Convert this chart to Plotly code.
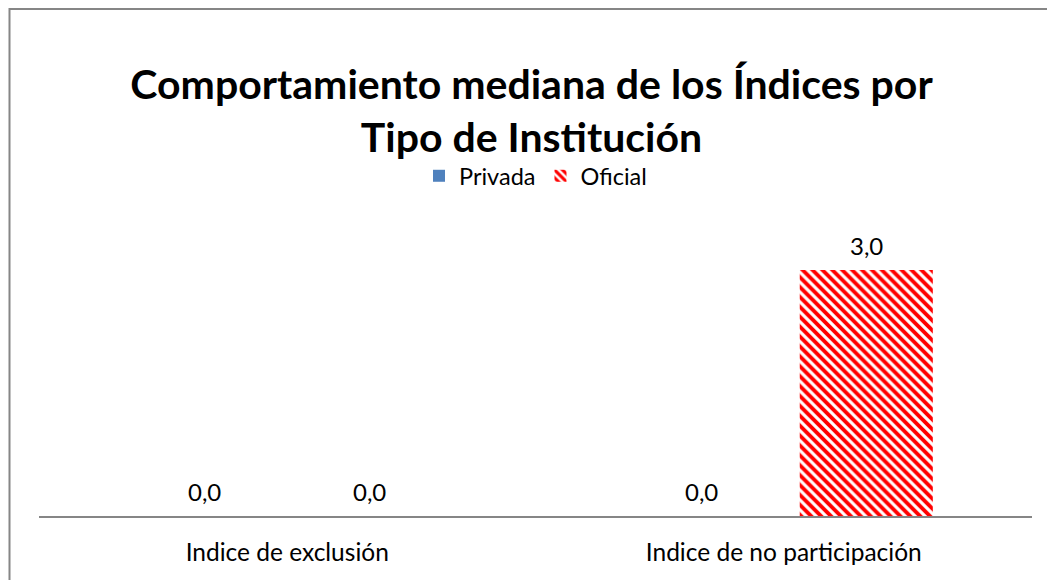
import plotly.graph_objects as go

categories = ["Indice de exclusión", "Indice de no participación"]
privada = [0.0, 0.0]
oficial = [0.0, 3.0]
title_text = "Comportamiento mediana de los Índices por<br>Tipo de Institución"

FONT = "Lato"
W, H = 1047, 572          # page body adds 8px margin
L, R, T, B = 31, 23, 221, 64
PW, PH = W - L - R, H - T - B

fig = go.Figure()
fig.add_trace(go.Bar(
    name="Privada", x=categories, y=privada,
    marker=dict(color="#4F81BD", line=dict(width=0)),
))
fig.add_trace(go.Bar(
    name="Oficial", x=categories, y=oficial,
    marker=dict(color="#FFFFFF", line=dict(width=0),
                pattern=dict(shape="\\", fgcolor="#FF0000", bgcolor="#FFFFFF",
                             size=7, solidity=0.55, fgopacity=1, fillmode="replace")),
))

annotations = []
for series, dx in ((privada, -82.5), (oficial, 82.5)):
    for cat, v in zip(categories, series):
        annotations.append(dict(
            x=cat, y=v, xref="x", yref="y", xshift=dx, yshift=8,
            text=f"{v:.1f}".replace(".", ","), showarrow=False,
            xanchor="center", yanchor="bottom",
            font=dict(family=FONT, size=24, color="#000000"),
        ))

fig.update_layout(
    width=W, height=H,
    margin=dict(l=L, r=R, t=T, b=B),
    paper_bgcolor="#FFFFFF", plot_bgcolor="#FFFFFF",
    separators=",.",
    barmode="group", bargap=0.335, bargroupgap=0.194,
    title=dict(text=title_text, x=0.5, xanchor="center", y=1 - 91 / H, yanchor="middle",
               font=dict(family=FONT, size=41, color="#000000", weight="bold")),
    legend=dict(orientation="h", x=0.5, xanchor="center", y=1 - 168 / H, yref="container",
                yanchor="middle", font=dict(family=FONT, size=23.5, color="#000000"),
                itemwidth=30, tracegroupgap=0, bgcolor="rgba(0,0,0,0)"),
    xaxis=dict(showline=True, linecolor="#868686", linewidth=2, ticks="",
               tickfont=dict(family=FONT, size=24.5, color="#000000"), showgrid=False,
               ticklabelstandoff=14),
    yaxis=dict(range=[0, 3.5], visible=False, showgrid=False, zeroline=False),
    showlegend=True,
    annotations=annotations,
    shapes=[dict(type="rect", xref="paper", yref="paper",
                 x0=(1.5 - L) / PW, x1=1.5, y0=-0.5, y1=1 + (T - 1) / PH,
                 line=dict(color="#868686", width=2), fillcolor="rgba(0,0,0,0)", layer="below")],
)

fig.write_html("out.html")
